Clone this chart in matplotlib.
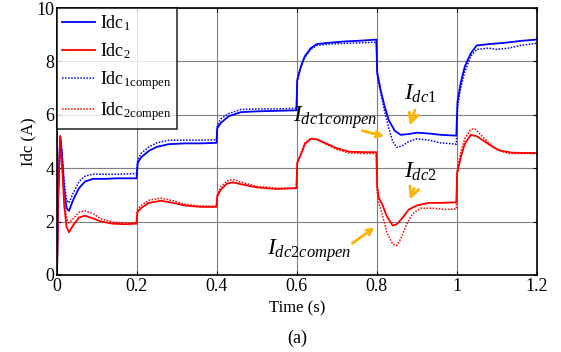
import matplotlib
matplotlib.use('Agg')
import matplotlib.pyplot as plt

plt.rcParams['font.family'] = 'Liberation Serif'
plt.rcParams['mathtext.fontset'] = 'custom'
plt.rcParams['mathtext.rm'] = 'Liberation Serif'
plt.rcParams['mathtext.it'] = 'Liberation Serif:italic'

# Idc1 (solid blue)
t_idc1 = [0, 0.003, 0.008, 0.012, 0.018, 0.024, 0.030, 0.040, 0.055, 0.07, 0.09, 0.12, 0.15, 0.199,
          0.202, 0.21, 0.23, 0.25, 0.28, 0.32, 0.36, 0.399,
          0.401, 0.41, 0.43, 0.46, 0.5, 0.55, 0.599,
          0.601, 0.61, 0.62, 0.635, 0.65, 0.68, 0.72, 0.76, 0.799,
          0.801, 0.81, 0.82, 0.83, 0.845, 0.86, 0.88, 0.9, 0.93, 0.96, 0.999,
          1.002, 1.01, 1.02, 1.035, 1.05, 1.08, 1.12, 1.16, 1.2]
idc1 = [0, 3.0, 5.2, 4.6, 3.2, 2.5, 2.4, 2.8, 3.25, 3.5, 3.6, 3.6, 3.62, 3.62,
        4.2, 4.4, 4.65, 4.8, 4.9, 4.93, 4.93, 4.95,
        5.5, 5.7, 5.95, 6.1, 6.13, 6.15, 6.17,
        7.3, 7.8, 8.2, 8.5, 8.65, 8.7, 8.75, 8.78, 8.82,
        7.6, 6.9, 6.3, 5.8, 5.4, 5.25, 5.28, 5.33, 5.3, 5.25, 5.22,
        6.5, 7.2, 7.8, 8.3, 8.6, 8.65, 8.7, 8.77, 8.82]

# Idc1compen (dotted blue)
t_idc1c = [0, 0.003, 0.008, 0.012, 0.018, 0.024, 0.03, 0.04, 0.055, 0.07, 0.09, 0.12, 0.15, 0.199,
           0.202, 0.21, 0.23, 0.25, 0.28, 0.32, 0.36, 0.399,
           0.401, 0.41, 0.43, 0.46, 0.5, 0.55, 0.599,
           0.601, 0.61, 0.62, 0.635, 0.65, 0.68, 0.72, 0.76, 0.799,
           0.801, 0.81, 0.82, 0.83, 0.84, 0.85, 0.865, 0.88, 0.9, 0.93, 0.96, 0.999,
           1.002, 1.01, 1.02, 1.035, 1.05, 1.08, 1.1, 1.13, 1.16, 1.2]
idc1c = [0, 3.0, 5.1, 4.7, 3.5, 2.8, 2.7, 3.05, 3.5, 3.7, 3.78, 3.77, 3.77, 3.8,
         4.3, 4.55, 4.8, 4.95, 5.05, 5.05, 5.05, 5.07,
         5.6, 5.85, 6.05, 6.2, 6.22, 6.22, 6.25,
         7.3, 7.8, 8.15, 8.45, 8.6, 8.65, 8.68, 8.7, 8.72,
         7.5, 6.8, 6.1, 5.5, 5.0, 4.78, 4.85, 5.0, 5.1, 5.05, 4.95, 4.9,
         6.3, 7.0, 7.6, 8.2, 8.45, 8.5, 8.45, 8.5, 8.6, 8.68]

# Idc2 (solid red)
t_idc2 = [0, 0.003, 0.008, 0.012, 0.018, 0.024, 0.03, 0.04, 0.055, 0.07, 0.09, 0.11, 0.14, 0.17, 0.199,
          0.201, 0.21, 0.23, 0.26, 0.29, 0.32, 0.36, 0.399,
          0.401, 0.41, 0.425, 0.44, 0.46, 0.5, 0.55, 0.599,
          0.601, 0.61, 0.62, 0.635, 0.65, 0.67, 0.7, 0.73, 0.77, 0.799,
          0.801, 0.805, 0.815, 0.825, 0.84, 0.85, 0.865, 0.88, 0.9, 0.93, 0.96, 0.999,
          1.001, 1.01, 1.02, 1.035, 1.05, 1.07, 1.09, 1.11, 1.14, 1.17, 1.2]
idc2 = [0, 3.0, 5.2, 4.3, 2.6, 1.8, 1.6, 1.85, 2.15, 2.22, 2.12, 2.0, 1.92, 1.9, 1.92,
        2.35, 2.5, 2.7, 2.78, 2.7, 2.6, 2.55, 2.55,
        2.95, 3.2, 3.42, 3.47, 3.4, 3.28, 3.22, 3.25,
        4.2, 4.5, 4.9, 5.1, 5.08, 4.95, 4.75, 4.62, 4.6, 4.6,
        3.3, 2.9, 2.6, 2.2, 1.85, 1.9, 2.15, 2.45, 2.6, 2.7, 2.7, 2.72,
        3.8, 4.4, 4.9, 5.25, 5.2, 5.0, 4.8, 4.65, 4.58, 4.57, 4.57]

# Idc2compen (dotted red)
t_idc2c = [0, 0.003, 0.008, 0.012, 0.018, 0.024, 0.03, 0.04, 0.055, 0.07, 0.09, 0.11, 0.14, 0.17, 0.199,
           0.201, 0.21, 0.23, 0.26, 0.29, 0.32, 0.36, 0.399,
           0.401, 0.41, 0.425, 0.44, 0.46, 0.5, 0.55, 0.599,
           0.601, 0.61, 0.62, 0.635, 0.65, 0.67, 0.7, 0.73, 0.77, 0.799,
           0.801, 0.805, 0.815, 0.825, 0.84, 0.85, 0.86, 0.875, 0.89, 0.91, 0.94, 0.97, 0.999,
           1.001, 1.01, 1.02, 1.035, 1.045, 1.06, 1.08, 1.1, 1.13, 1.16, 1.2]
idc2c = [0, 3.0, 5.1, 4.4, 2.9, 2.1, 1.95, 2.1, 2.35, 2.4, 2.3, 2.1, 1.98, 1.95, 1.95,
         2.45, 2.6, 2.8, 2.88, 2.78, 2.65, 2.58, 2.58,
         3.0, 3.3, 3.52, 3.58, 3.48, 3.32, 3.25, 3.25,
         4.2, 4.55, 4.95, 5.12, 5.08, 4.92, 4.7, 4.57, 4.55, 4.55,
         3.1, 2.7, 2.2, 1.6, 1.15, 1.1, 1.35, 1.9, 2.3, 2.5, 2.5, 2.45, 2.47,
         3.9, 4.6, 5.1, 5.45, 5.48, 5.25, 4.95, 4.7, 4.55, 4.55, 4.55]

xticks = [0, 0.2, 0.4, 0.6, 0.8, 1.0, 1.2]
xticklabels = ['0', '0.2', '0.4', '0.6', '0.8', '1', '1.2']
yticks = [0, 2, 4, 6, 8, 10]

fig = plt.figure(figsize=(5.61, 3.52), dpi=100)
ax = fig.add_axes([0.1016, 0.219, 0.855, 0.758])

ax.plot(t_idc1, idc1, color='#0000FF', lw=1.3, label='Idc$_{1}$')
ax.plot(t_idc2, idc2, color='#FF0000', lw=1.3, label='Idc$_{2}$')
ax.plot(t_idc1c, idc1c, color='#0000FF', lw=1.1, ls=(0, (1, 1)), label='Idc$_{\\mathrm{1compen}}$')
ax.plot(t_idc2c, idc2c, color='#FF0000', lw=1.1, ls=(0, (1, 1)), label='Idc$_{\\mathrm{2compen}}$')

ax.set_xlim(0, 1.2)
ax.set_ylim(0, 10)
ax.set_xticks(xticks)
ax.set_xticklabels(xticklabels)
ax.set_yticks(yticks)
ax.tick_params(direction='in', top=True, right=True, labelsize=13, length=3, pad=2)
ax.grid(True, color='#808080', lw=0.8)
for s in ax.spines.values():
    s.set_linewidth(1.2)

ax.set_xlabel('Time (s)', fontsize=12, labelpad=4)
ax.set_ylabel('Idc (A)', fontsize=12, labelpad=0)

leg = ax.legend(loc='upper left', fontsize=13, frameon=True, fancybox=False,
                edgecolor='black', borderaxespad=0, handlelength=1.8,
                labelspacing=0.45, borderpad=0.3, handletextpad=0.3)
leg.get_frame().set_linewidth(1.2)

arrow = dict(arrowstyle='->', color='#FFB400', lw=2)
ax.annotate('$I_{dc1}$', xy=(0.88, 5.5), xytext=(0.91, 6.8), fontsize=17,
            ha='center', va='center', arrowprops=arrow)
ax.annotate('', xy=(0.825, 5.17), xytext=(0.757, 5.43), arrowprops=arrow)
ax.text(0.59, 5.9, '$I_{dc1compen}$', fontsize=17, ha='left', va='center')
ax.annotate('$I_{dc2}$', xy=(0.88, 2.73), xytext=(0.91, 3.86), fontsize=17,
            ha='center', va='center', arrowprops=arrow)
ax.annotate('', xy=(0.8, 1.84), xytext=(0.733, 1.12), arrowprops=arrow)
ax.text(0.525, 0.9, '$I_{dc2compen}$', fontsize=17, ha='left', va='center')

fig.text(0.53, 0.04, '(a)', fontsize=13, ha='center', va='center')

fig.savefig('out.png', dpi=100)
